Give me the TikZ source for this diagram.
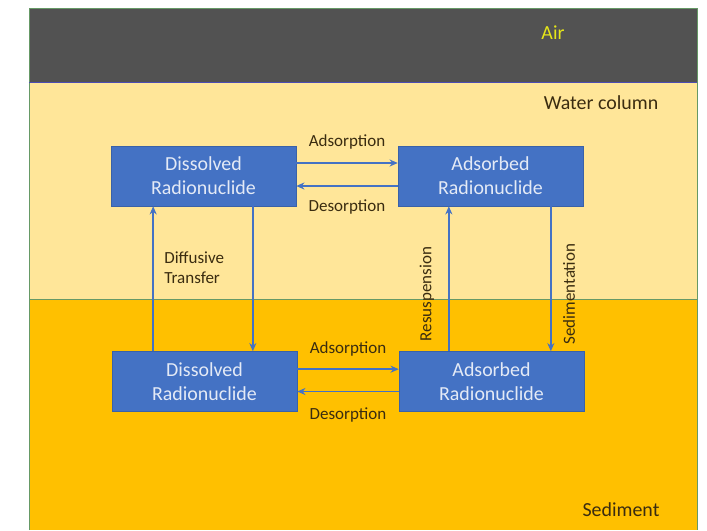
\documentclass[tikz,border=0pt]{standalone}
\usepackage{fontspec}
\setmainfont{Carlito}
\usepackage{tikz}
\usetikzlibrary{positioning,arrows.meta}

\definecolor{airgray}{HTML}{525252}
\definecolor{watercol}{HTML}{FFE699}
\definecolor{sedcol}{HTML}{FFC000}
\definecolor{boxblue}{HTML}{4472C4}
\definecolor{boxedge}{HTML}{3A62A8}
\definecolor{boxtext}{HTML}{E4EAF6}
\definecolor{lbltext}{HTML}{3A2C10}
\definecolor{airtext}{HTML}{E6E619}

\tikzset{
    species/.style={rectangle, fill=boxblue, draw=boxedge, thin,
        minimum width=5.55cm, minimum height=1.8cm, align=center,
        text=boxtext, font=\fontsize{17}{20.5}\selectfont},
    flow/.style={draw=boxblue, line width=1.5pt, -{Stealth[length=7pt,width=6pt]}},
    lbl/.style={text=lbltext, font=\fontsize{14.5}{17}\selectfont, inner sep=1pt},
    layer/.style={text=lbltext, font=\fontsize{17}{20}\selectfont}
}

\begin{document}
\begin{tikzpicture}[x=0.03cm,y=-0.03cm]
    \useasboundingbox (0,0) rectangle (707,530);
    \fill[white] (0,0) rectangle (707,530);

    % Layers: air, water column, sediment
    \fill[airgray] (29,8) rectangle (697,82);
    \fill[watercol] (29,82) rectangle (697,299);
    \fill[sedcol] (29,299) rectangle (697,530);
    \draw[gray!80!green, thin] (29,530) -- (29,8) -- (697,8) -- (697,530);
    \draw[gray!80!green, thin] (29,299) -- (697,299);
    \draw[gray!60!blue, thin] (29,82) -- (697,82);

    \node[text=airtext, font=\fontsize{17}{20}\selectfont] (air) at (553,33) {Air};
    \node[layer] (water) at (601,103) {Water column};
    \node[layer] (sed) at (621,510) {Sediment};

    % Species in the water column
    \node[species] (tl) at (203.5,176) {Dissolved\\Radionuclide};
    \node[species] (tr) at (490.5,176) {Adsorbed\\Radionuclide};

    % Species in the sediment
    \node[species] (bl) at (204.5,381.5) {Dissolved\\Radionuclide};
    \node[species] (br) at (491.5,381.5) {Adsorbed\\Radionuclide};

    % Exchange within each layer
    \draw[flow] ([yshift=0.39cm]tl.east) -- node[lbl, yshift=0.63cm] (ads1) {Adsorption} ([yshift=0.39cm]tr.west);
    \draw[flow] ([yshift=-0.3cm]tr.west) -- node[lbl, yshift=-0.63cm] (des1) {Desorption} ([yshift=-0.3cm]tl.east);
    \draw[flow] ([yshift=0.37cm]bl.east) -- node[lbl, yshift=0.6cm] (ads2) {Adsorption} ([yshift=0.37cm]br.west);
    \draw[flow] ([yshift=-0.3cm]br.west) -- node[lbl, yshift=-0.69cm] (des2) {Desorption} ([yshift=-0.3cm]bl.east);

    % Exchange between the layers
    \draw[flow] ([xshift=-1.54cm]bl.north) -- ([xshift=-1.51cm]tl.south);
    \draw[flow] ([xshift=1.48cm]tl.south) -- ([xshift=1.45cm]bl.north);
    \draw[flow] ([xshift=-1.28cm]br.north) -- ([xshift=-1.25cm]tr.south);
    \draw[flow] ([xshift=1.81cm]tr.south) -- ([xshift=1.78cm]br.north);

    \node[lbl, align=left, anchor=west] (diff) at (163,268) {Diffusive\\Transfer};
    \node[lbl, rotate=90] (resus) at (427,294) {Resuspension};
    \node[lbl, rotate=90] (sedim) at (569,294) {Sedimentation};
\end{tikzpicture}
\end{document}
